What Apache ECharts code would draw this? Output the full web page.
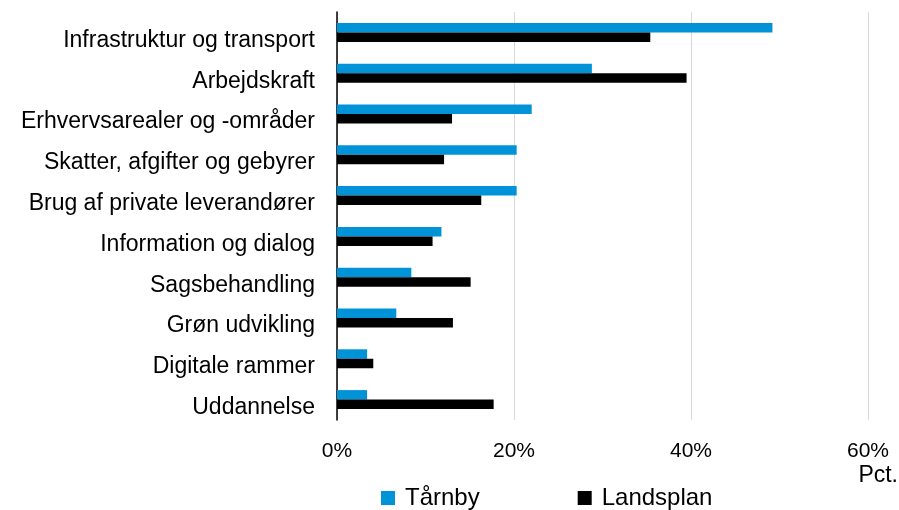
<!DOCTYPE html>
<html>
<head>
<meta charset="utf-8">
<script src="https://cdn.jsdelivr.net/npm/echarts@6/dist/echarts.min.js"></script>
<style>
  html, body { margin: 0; padding: 0; background: #fff; }
  #chart { width: 899px; height: 510px; }
</style>
</head>
<body>
<div id="chart"></div>
<script>
// kategorier (oppefra og ned)
const categories = [
  "Infrastruktur og transport",
  "Arbejdskraft",
  "Erhvervsarealer og -områder",
  "Skatter, afgifter og gebyrer",
  "Brug af private leverandører",
  "Information og dialog",
  "Sagsbehandling",
  "Grøn udvikling",
  "Digitale rammer",
  "Uddannelse"
];

// procent
const taarnby = [49.2, 28.8, 22.0, 20.3, 20.3, 11.8, 8.4, 6.7, 3.4, 3.4];
const landsplan = [35.4, 39.5, 13.0, 12.1, 16.3, 10.8, 15.1, 13.1, 4.1, 17.7];

const xTicks = [0, 20, 40, 60];

const chart = echarts.init(document.getElementById("chart"));

const font = "Liberation Sans, Arial, sans-serif";

chart.setOption({
  animation: false,
  grid: { left: 337, right: 31, top: 12, bottom: 90 },
  legend: {
    top: 486,
    left: 381,
    padding: 0,
    itemGap: 98,
    itemWidth: 14,
    itemHeight: 14,
    icon: "rect",
    textStyle: { fontFamily: font, fontSize: 24, color: "#000", padding: [0, 0, 0, 5] },
    data: ["Tårnby", "Landsplan"]
  },
  graphic: [{
    type: "text",
    right: 1,
    top: 464,
    style: { text: "Pct.", font: "23px " + font, fill: "#000" }
  }],
  xAxis: {
    type: "value",
    min: xTicks[0],
    max: xTicks[xTicks.length - 1],
    interval: 20,
    axisLine: { show: false },
    axisTick: { show: false },
    splitLine: { lineStyle: { color: "#d9d9d9", width: 1 } },
    axisLabel: {
      formatter: "{value}%",
      fontFamily: font,
      fontSize: 21,
      color: "#000",
      margin: 21
    }
  },
  yAxis: {
    type: "category",
    data: categories,
    inverse: true,
    axisLine: { show: true, lineStyle: { color: "#000", width: 1.5 } },
    axisTick: { show: false },
    axisLabel: {
      fontFamily: font,
      fontSize: 23,
      color: "#000",
      margin: 22,
      verticalAlign: "top",
      lineHeight: 16
    }
  },
  series: [
    {
      name: "Tårnby",
      type: "bar",
      data: taarnby,
      barWidth: 9.5,
      barGap: "0%",
      itemStyle: { color: "#0093d7" }
    },
    {
      name: "Landsplan",
      type: "bar",
      data: landsplan,
      barWidth: 9.5,
      barGap: "0%",
      itemStyle: { color: "#000" }
    }
  ]
});
</script>
</body>
</html>
